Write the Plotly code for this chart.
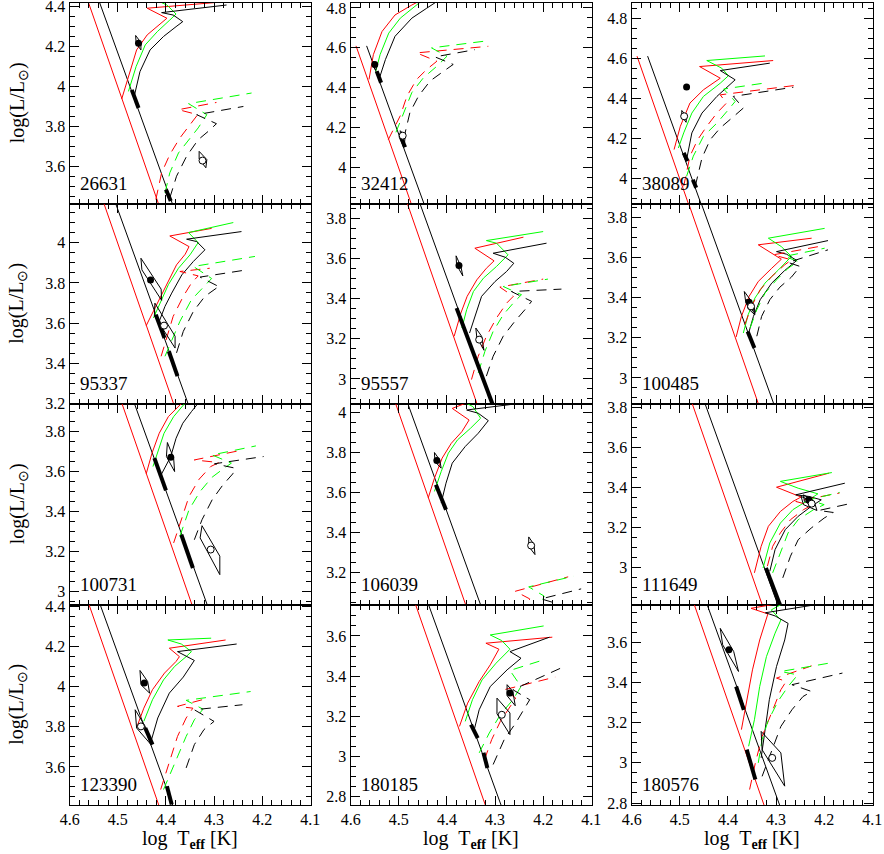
import plotly.graph_objects as go

# HR diagrams, one panel per star: log Teff (x) vs log L/Lsun (y)
star_ids = ["26631", "32412", "38089", "95337", "95557", "100485",
            "100731", "106039", "111649", "123390", "180185", "180576"]

y_ranges = [[3.415, 4.415], [3.82, 4.825], [3.875, 4.875],
            [3.196, 4.196], [2.875, 3.875], [2.87, 3.87],
            [2.935, 3.935], [3.04, 4.04], [2.817, 3.817],
            [3.41, 4.41], [2.757, 3.757], [2.79, 3.79]]

# ZAMS lines, same in every panel
zams_red = [(4.589, 4.61), (4.312, 2.70)]
zams_black = [(4.567, 4.61), (4.279, 2.70)]

# higher mass tracks (solid)
solid_red = [
    [(4.492, 3.936), (4.478, 4.049), (4.461, 4.181), (4.439, 4.256), (4.414, 4.306), (4.398, 4.339), (4.439, 4.389), (4.274, 4.422)],
    [(4.562, 4.442), (4.553, 4.566), (4.535, 4.682), (4.508, 4.765), (4.473, 4.815), (4.439, 4.857)],
    [(4.512, 4.144), (4.499, 4.26), (4.479, 4.376), (4.451, 4.442), (4.416, 4.5), (4.459, 4.558), (4.306, 4.588)],
    [(4.441, 3.587), (4.428, 3.650), (4.412, 3.733), (4.396, 3.807), (4.378, 3.890), (4.360, 3.943), (4.352, 3.981), (4.392, 4.034), (4.305, 4.072)],
    [(4.385, 3.213), (4.371, 3.329), (4.358, 3.412), (4.338, 3.494), (4.318, 3.552), (4.302, 3.589), (4.342, 3.652), (4.241, 3.707)],
    [(4.383, 3.204), (4.372, 3.307), (4.356, 3.407), (4.337, 3.481), (4.309, 3.547), (4.289, 3.592), (4.337, 3.664), (4.226, 3.697)],
    [(4.441, 3.587), (4.429, 3.690), (4.414, 3.789), (4.395, 3.872), (4.371, 3.930), (4.356, 3.963)],
    [(4.439, 3.571), (4.426, 3.670), (4.410, 3.770), (4.391, 3.844), (4.369, 3.902), (4.354, 3.960), (4.389, 4.018), (4.335, 4.068)],
    [(4.345, 2.975), (4.331, 3.107), (4.316, 3.207), (4.291, 3.281), (4.265, 3.331), (4.248, 3.353), (4.299, 3.402), (4.190, 3.472)],
    [(4.460, 3.802), (4.446, 3.893), (4.428, 3.985), (4.403, 4.068), (4.379, 4.126), (4.372, 4.150), (4.393, 4.192), (4.276, 4.233)],
    [(4.374, 3.149), (4.357, 3.265), (4.333, 3.373), (4.310, 3.456), (4.292, 3.534), (4.319, 3.564), (4.181, 3.594)],
    [(4.372, 3.166), (4.361, 3.315), (4.349, 3.464), (4.334, 3.613), (4.322, 3.710), (4.317, 3.743), (4.352, 3.771), (4.273, 3.804)],
]

solid_green = [
    [(4.478, 3.974), (4.462, 4.098), (4.443, 4.206), (4.418, 4.272), (4.392, 4.33), (4.379, 4.36), (4.398, 4.405), (4.421, 4.43), (4.35, 4.447)],
    [(4.548, 4.483), (4.539, 4.566), (4.521, 4.674), (4.497, 4.749), (4.459, 4.823), (4.439, 4.857)],
    [(4.503, 4.152), (4.492, 4.227), (4.475, 4.326), (4.451, 4.409), (4.416, 4.475), (4.399, 4.512), (4.413, 4.55), (4.444, 4.588), (4.323, 4.611)],
    [(4.426, 3.625), (4.412, 3.699), (4.395, 3.791), (4.374, 3.873), (4.350, 3.940), (4.333, 4.001), (4.353, 4.051), (4.260, 4.101)],
    [(4.369, 3.254), (4.359, 3.345), (4.345, 3.436), (4.324, 3.503), (4.297, 3.561), (4.273, 3.619), (4.297, 3.677), (4.318, 3.690), (4.200, 3.735)],
    [(4.368, 3.224), (4.358, 3.315), (4.344, 3.398), (4.323, 3.473), (4.295, 3.539), (4.268, 3.606), (4.289, 3.655), (4.316, 3.697), (4.199, 3.746)],
    [(4.427, 3.623), (4.416, 3.706), (4.404, 3.789), (4.384, 3.872), (4.365, 3.930), (4.352, 3.963)],
    [(4.426, 3.604), (4.412, 3.703), (4.397, 3.795), (4.378, 3.861), (4.351, 3.919), (4.330, 3.969), (4.346, 4.027), (4.362, 4.047), (4.249, 4.073)],
    [(4.327, 2.999), (4.313, 3.124), (4.291, 3.223), (4.265, 3.290), (4.232, 3.339), (4.213, 3.369), (4.254, 3.397), (4.291, 3.431), (4.184, 3.475)],
    [(4.446, 3.827), (4.428, 3.935), (4.405, 4.034), (4.382, 4.101), (4.358, 4.150), (4.347, 4.175), (4.368, 4.213), (4.396, 4.233), (4.306, 4.242)],
    [(4.362, 3.174), (4.347, 3.282), (4.327, 3.381), (4.298, 3.464), (4.269, 3.534), (4.286, 3.577), (4.310, 3.605), (4.199, 3.650)],
    [(4.357, 3.083), (4.345, 3.215), (4.334, 3.381), (4.320, 3.530), (4.302, 3.647), (4.290, 3.713), (4.310, 3.763), (4.285, 3.796)],
]

solid_black = [
    [(4.466, 3.949), (4.454, 4.073), (4.433, 4.181), (4.405, 4.248), (4.379, 4.297), (4.365, 4.322), (4.385, 4.355), (4.409, 4.367), (4.274, 4.405)],
    [(4.539, 4.459), (4.528, 4.541), (4.508, 4.658), (4.473, 4.749), (4.442, 4.799), (4.411, 4.848)],
    [(4.486, 4.094), (4.475, 4.227), (4.454, 4.326), (4.423, 4.409), (4.385, 4.492), (4.416, 4.538), (4.313, 4.575)],
    [(4.414, 3.608), (4.402, 3.683), (4.388, 3.749), (4.367, 3.840), (4.343, 3.907), (4.319, 3.965), (4.336, 4.006), (4.357, 4.018), (4.243, 4.056)],
    [(4.353, 3.229), (4.345, 3.287), (4.328, 3.412), (4.300, 3.486), (4.276, 3.536), (4.261, 3.577), (4.279, 3.607), (4.304, 3.627), (4.193, 3.677)],
    [(4.356, 3.232), (4.347, 3.307), (4.333, 3.390), (4.309, 3.473), (4.282, 3.536), (4.257, 3.586), (4.278, 3.617), (4.299, 3.630), (4.192, 3.685)],
    [(4.410, 3.582), (4.390, 3.673), (4.379, 3.764), (4.365, 3.839), (4.347, 3.897), (4.325, 3.963)],
    [(4.412, 3.546), (4.402, 3.645), (4.389, 3.745), (4.362, 3.828), (4.335, 3.894), (4.314, 3.957), (4.335, 3.994), (4.359, 4.010), (4.249, 4.043)],
    [(4.313, 2.983), (4.302, 3.091), (4.281, 3.190), (4.254, 3.257), (4.227, 3.306), (4.206, 3.339), (4.232, 3.356), (4.259, 3.364), (4.157, 3.422)],
    [(4.431, 3.728), (4.417, 3.844), (4.393, 3.968), (4.364, 4.048), (4.341, 4.131), (4.376, 4.175), (4.253, 4.213)],
    [(4.345, 3.116), (4.333, 3.232), (4.310, 3.348), (4.275, 3.431), (4.246, 3.489), (4.269, 3.522), (4.187, 3.594)],
    [(4.331, 3.025), (4.322, 3.166), (4.314, 3.315), (4.299, 3.481), (4.282, 3.613), (4.275, 3.696), (4.302, 3.733), (4.322, 3.749), (4.220, 3.788)],
]

# lower mass tracks (dashed)
dashed_red = [
    [(4.421, 3.435), (4.409, 3.568), (4.392, 3.659), (4.371, 3.742), (4.350, 3.808), (4.334, 3.858), (4.374, 3.883), (4.295, 3.919)],
    [(4.522, 4.140), (4.497, 4.260), (4.483, 4.359), (4.463, 4.442), (4.442, 4.492), (4.421, 4.533), (4.463, 4.575), (4.314, 4.608)],
    [(4.492, 3.961), (4.479, 4.111), (4.463, 4.193), (4.444, 4.260), (4.423, 4.326), (4.403, 4.376), (4.416, 4.417), (4.250, 4.467)],
    [(4.410, 3.434), (4.400, 3.509), (4.385, 3.633), (4.364, 3.733), (4.347, 3.799), (4.333, 3.835), (4.371, 3.857), (4.309, 3.873)],
    [(4.349, 2.997), (4.335, 3.113), (4.318, 3.213), (4.297, 3.304), (4.276, 3.378), (4.262, 3.412), (4.290, 3.458), (4.200, 3.498)],
    [(4.365, 3.266), (4.351, 3.357), (4.333, 3.440), (4.309, 3.506), (4.282, 3.564), (4.268, 3.589), (4.306, 3.614), (4.212, 3.655)],
    [(4.384, 3.242), (4.368, 3.358), (4.352, 3.474), (4.331, 3.560), (4.307, 3.623), (4.290, 3.643), (4.341, 3.656), (4.240, 3.706)],
    [(4.239, 2.982), (4.228, 3.068), (4.258, 3.106), (4.148, 3.178)],
    [(4.318, 3.008), (4.307, 3.107), (4.291, 3.174), (4.270, 3.240), (4.243, 3.290), (4.227, 3.310), (4.259, 3.331), (4.168, 3.373)],
    [(4.411, 3.487), (4.393, 3.620), (4.376, 3.752), (4.358, 3.844), (4.344, 3.893), (4.376, 3.902), (4.312, 3.943)],
    [(4.322, 2.983), (4.307, 3.083), (4.289, 3.174), (4.269, 3.249), (4.257, 3.290), (4.281, 3.332), (4.175, 3.395)],
    [(4.355, 2.867), (4.343, 3.000), (4.329, 3.132), (4.310, 3.249), (4.290, 3.365), (4.279, 3.406), (4.299, 3.423), (4.226, 3.484)],
]

dashed_green = [
    [(4.402, 3.468), (4.392, 3.568), (4.374, 3.667), (4.353, 3.733), (4.333, 3.792), (4.315, 3.858), (4.353, 3.913), (4.222, 3.966)],
    [(4.506, 4.177), (4.490, 4.276), (4.473, 4.376), (4.449, 4.450), (4.421, 4.508), (4.400, 4.558), (4.432, 4.600), (4.324, 4.633)],
    [(4.486, 4.011), (4.472, 4.111), (4.451, 4.210), (4.423, 4.276), (4.399, 4.343), (4.385, 4.384), (4.409, 4.446), (4.326, 4.475)],
    [(4.402, 3.434), (4.388, 3.517), (4.371, 3.608), (4.347, 3.716), (4.322, 3.779), (4.305, 3.822), (4.343, 3.882), (4.215, 3.932)],
    [(4.335, 3.030), (4.321, 3.138), (4.304, 3.237), (4.283, 3.320), (4.259, 3.387), (4.245, 3.420), (4.283, 3.461), (4.190, 3.498)],
    [(4.354, 3.249), (4.340, 3.340), (4.323, 3.423), (4.299, 3.489), (4.275, 3.547), (4.254, 3.581), (4.282, 3.606), (4.199, 3.647)],
    [(4.371, 3.275), (4.352, 3.408), (4.329, 3.499), (4.304, 3.570), (4.279, 3.615), (4.264, 3.640), (4.304, 3.681), (4.213, 3.726)],
    [(4.212, 2.982), (4.198, 3.082), (4.230, 3.128), (4.137, 3.181)],
    [(4.307, 2.975), (4.291, 3.074), (4.275, 3.174), (4.254, 3.240), (4.222, 3.290), (4.200, 3.315), (4.232, 3.339), (4.168, 3.376)],
    [(4.405, 3.487), (4.382, 3.620), (4.358, 3.752), (4.341, 3.835), (4.323, 3.888), (4.358, 3.932), (4.224, 3.976)],
    [(4.333, 3.017), (4.312, 3.116), (4.289, 3.207), (4.263, 3.282), (4.246, 3.348), (4.269, 3.428), (4.199, 3.481)],
    [(4.337, 3.000), (4.329, 3.116), (4.317, 3.207), (4.296, 3.307), (4.275, 3.381), (4.255, 3.439), (4.290, 3.456), (4.191, 3.497)],
]

dashed_black = [
    [(4.392, 3.443), (4.378, 3.551), (4.357, 3.651), (4.333, 3.733), (4.312, 3.775), (4.295, 3.813), (4.336, 3.858), (4.239, 3.899)],
    [(4.490, 4.143), (4.477, 4.276), (4.459, 4.359), (4.435, 4.434), (4.407, 4.483), (4.387, 4.517), (4.425, 4.555), (4.342, 4.591)],
    [(4.468, 3.961), (4.454, 4.102), (4.437, 4.193), (4.416, 4.252), (4.392, 4.301), (4.368, 4.351), (4.389, 4.409), (4.264, 4.455)],
    [(4.378, 3.451), (4.364, 3.558), (4.343, 3.658), (4.319, 3.733), (4.295, 3.774), (4.288, 3.779), (4.329, 3.829), (4.232, 3.865)],
    [(4.318, 3.014), (4.304, 3.113), (4.283, 3.213), (4.259, 3.287), (4.238, 3.345), (4.224, 3.387), (4.266, 3.436), (4.162, 3.448)],
    [(4.340, 3.208), (4.330, 3.307), (4.313, 3.390), (4.292, 3.453), (4.268, 3.503), (4.250, 3.556), (4.275, 3.576), (4.192, 3.639)],
    [(4.341, 3.258), (4.325, 3.358), (4.304, 3.457), (4.283, 3.527), (4.261, 3.587), (4.256, 3.615), (4.299, 3.637), (4.197, 3.673)],
    [(4.180, 2.982), (4.172, 3.045), (4.204, 3.068), (4.121, 3.118)],
    [(4.286, 2.950), (4.270, 3.058), (4.254, 3.140), (4.227, 3.198), (4.200, 3.248), (4.181, 3.276), (4.211, 3.286), (4.141, 3.323)],
    [(4.358, 3.595), (4.341, 3.711), (4.321, 3.786), (4.300, 3.827), (4.341, 3.885), (4.241, 3.910)],
    [(4.304, 2.959), (4.281, 3.083), (4.257, 3.166), (4.240, 3.232), (4.228, 3.282), (4.263, 3.332), (4.164, 3.439)],
    [(4.329, 2.933), (4.308, 3.066), (4.290, 3.182), (4.267, 3.265), (4.244, 3.331), (4.226, 3.356), (4.267, 3.390), (4.162, 3.448)],
]

# thick pieces of the black ZAMS
thick_segments = [
    [[(4.471, 3.982), (4.457, 3.891)], [(4.400, 3.485), (4.390, 3.427)]],
    [[(4.546, 4.483), (4.537, 4.425)], [(4.497, 4.160), (4.487, 4.102)]],
    [[(4.492, 4.127), (4.484, 4.086)], [(4.473, 3.994), (4.466, 3.953)]],
    [[(4.421, 3.641), (4.403, 3.525)], [(4.394, 3.459), (4.376, 3.335)]],
    [[(4.380, 3.353), (4.303, 2.860)]],
    [[(4.359, 3.232), (4.345, 3.149)]],
    [[(4.424, 3.665), (4.400, 3.504)], [(4.368, 3.283), (4.344, 3.117)]],
    [[(4.423, 3.637), (4.402, 3.513)]],
    [[(4.321, 2.999), (4.291, 2.810)]],
    [[(4.443, 3.794), (4.428, 3.711)], [(4.398, 3.504), (4.388, 3.413)]],
    [[(4.350, 3.158), (4.336, 3.091)], [(4.324, 3.017), (4.316, 2.942)]],
    [[(4.383, 3.381), (4.367, 3.265)], [(4.361, 3.066), (4.343, 2.917)]],
]

# observed positions: filled and open symbols with error boxes
filled_star = [(4.457, 4.214), (4.550, 4.517), (4.486, 4.456), (4.432, 3.815),
               (4.375, 3.566), (4.356, 3.377), (4.390, 3.670), (4.421, 3.758),
               (4.232, 3.339), (4.445, 4.018), (4.269, 3.315), (4.398, 3.564)]
filled_box = [
    [(4.463, 4.253), (4.452, 4.218), (4.452, 4.181), (4.462, 4.214)],
    [(4.553, 4.533), (4.546, 4.508), (4.548, 4.488), (4.555, 4.512)],
    [(4.487, 4.466), (4.485, 4.456), (4.486, 4.446), (4.487, 4.456)],
    [(4.452, 3.923), (4.410, 3.769), (4.409, 3.713), (4.450, 3.865)],
    [(4.381, 3.614), (4.371, 3.561), (4.367, 3.514), (4.380, 3.569)],
    [(4.366, 3.431), (4.351, 3.382), (4.345, 3.324), (4.363, 3.377)],
    [(4.397, 3.743), (4.384, 3.665), (4.382, 3.598), (4.399, 3.673)],
    [(4.426, 3.798), (4.415, 3.761), (4.412, 3.720), (4.425, 3.753)],
    [(4.243, 3.364), (4.224, 3.339), (4.222, 3.306), (4.241, 3.331)],
    [(4.454, 4.081), (4.438, 4.026), (4.434, 3.968), (4.452, 4.010)],
    [(4.275, 3.357), (4.263, 3.323), (4.258, 3.252), (4.275, 3.302)],
    [(4.416, 3.671), (4.388, 3.555), (4.378, 3.456), (4.411, 3.589)],
]
open_star = [(4.324, 3.629), (4.492, 4.160), (4.491, 4.310), (4.404, 3.587),
             (4.333, 3.196), (4.352, 3.357), (4.307, 3.209), (4.225, 3.334),
             (4.226, 3.320), (4.452, 3.802), (4.286, 3.207), (4.308, 3.025)]
open_box = [
    [(4.331, 3.675), (4.315, 3.634), (4.317, 3.593), (4.331, 3.637)],
    [(4.497, 4.185), (4.487, 4.160), (4.488, 4.127), (4.497, 4.157)],
    [(4.496, 4.339), (4.486, 4.310), (4.487, 4.280), (4.496, 4.310)],
    [(4.423, 3.699), (4.381, 3.534), (4.381, 3.475), (4.424, 3.636)],
    [(4.340, 3.254), (4.328, 3.213), (4.323, 3.143), (4.338, 3.209)],
    [(4.361, 3.393), (4.345, 3.353), (4.344, 3.315), (4.359, 3.348)],
    [(4.325, 3.328), (4.288, 3.176), (4.288, 3.084), (4.329, 3.267)],
    [(4.230, 3.377), (4.219, 3.339), (4.217, 3.289), (4.230, 3.330)],
    [(4.248, 3.356), (4.220, 3.326), (4.215, 3.286), (4.243, 3.315)],
    [(4.464, 3.885), (4.443, 3.802), (4.431, 3.711), (4.461, 3.794)],
    [(4.296, 3.290), (4.269, 3.216), (4.269, 3.108), (4.296, 3.212)],
    [(4.331, 3.157), (4.290, 3.050), (4.282, 2.884), (4.329, 3.066)],
]

W, H = 884, 854
col_left = [69.5, 350.5, 631.5]
col_w = 241
row_top = [3, 203.5, 404, 604.5]
row_h = 200.5
FONT = "Liberation Serif"
DASH = "10px,7px"


def xy(pts):
    return [p[0] for p in pts], [p[1] for p in pts]


fig = go.Figure()
layout = {}
annotations = []

for i, name in enumerate(star_ids):
    r, c = divmod(i, 3)
    n = i + 1
    xa = "x" if n == 1 else f"x{n}"
    ya = "y" if n == 1 else f"y{n}"

    def line(pts, color, width=1, dash="solid"):
        x, y = xy(pts)
        fig.add_trace(go.Scatter(x=x, y=y, mode="lines", xaxis=xa, yaxis=ya,
                                 line=dict(color=color, width=width, dash=dash),
                                 showlegend=False, hoverinfo="skip"))

    line(zams_red, "#ff0000")
    line(zams_black, "black")
    line(solid_red[i], "#ff0000")
    line(solid_green[i], "#00ff00")
    line(solid_black[i], "black")
    line(dashed_red[i], "#ff0000", dash=DASH)
    line(dashed_green[i], "#00ff00", dash=DASH)
    line(dashed_black[i], "black", dash=DASH)
    for seg in thick_segments[i]:
        line(seg, "black", width=4)
    line(filled_box[i] + filled_box[i][:1], "black")
    line(open_box[i] + open_box[i][:1], "black")

    fig.add_trace(go.Scatter(x=[filled_star[i][0]], y=[filled_star[i][1]], mode="markers",
                             xaxis=xa, yaxis=ya, marker=dict(color="black", size=7),
                             showlegend=False))
    fig.add_trace(go.Scatter(x=[open_star[i][0]], y=[open_star[i][1]], mode="markers",
                             xaxis=xa, yaxis=ya,
                             marker=dict(color="white", size=7, line=dict(color="black", width=1)),
                             showlegend=False))

    x0 = col_left[c] / W
    x1 = (col_left[c] + col_w) / W
    y1 = 1 - row_top[r] / H
    y0 = 1 - (row_top[r] + row_h) / H

    common = dict(showline=True, linecolor="black", linewidth=1, mirror="allticks",
                  ticks="inside", ticklen=9, tickwidth=1, tickcolor="black",
                  showgrid=False, zeroline=False, automargin=False,
                  ticklabeloverflow="allow",
                  tickfont=dict(family=FONT, size=16, color="black"))
    layout["xaxis" if n == 1 else f"xaxis{n}"] = dict(
        common, domain=[x0, x1], anchor=ya, range=[4.6005, 4.0995],
        tick0=4.0, dtick=0.1, showticklabels=(r == 3),
        minor=dict(ticks="inside", ticklen=5, tickcolor="black", tick0=4.0, dtick=0.02))
    layout["yaxis" if n == 1 else f"yaxis{n}"] = dict(
        common, domain=[y0, y1], anchor=xa, range=y_ranges[i],
        tick0=0, dtick=0.2,
        minor=dict(ticks="inside", ticklen=5, tickcolor="black", tick0=0, dtick=0.05))

    annotations.append(dict(text=name, xref=f"{xa} domain", yref=f"{ya} domain",
                            x=0.035, y=0.1, xanchor="left", yanchor="middle",
                            showarrow=False, font=dict(family=FONT, size=19, color="black")))
    if c == 0:
        annotations.append(dict(text="log(L/L<sub>⊙</sub>)", xref="paper", yref="paper",
                                x=18 / W, y=(y0 + y1) / 2, textangle=-90,
                                xanchor="center", yanchor="middle", showarrow=False,
                                font=dict(family=FONT, size=20, color="black")))
    if r == 3:
        annotations.append(dict(text="log  T<sub><b>eff</b></sub> [K]", xref="paper", yref="paper",
                                x=(x0 + x1) / 2, y=1 - 839 / H,
                                xanchor="center", yanchor="middle", showarrow=False,
                                font=dict(family=FONT, size=20, color="black")))

fig.update_layout(**layout)
fig.update_layout(width=W, height=H, autosize=False,
                  margin=dict(l=0, r=0, t=0, b=0),
                  paper_bgcolor="white", plot_bgcolor="white",
                  annotations=annotations, showlegend=False)

# drop the page's default body margin so the figure sits at the window corner
fig.write_html("out.html", config={"displayModeBar": False},
               post_script="document.body.style.margin = '0';")
